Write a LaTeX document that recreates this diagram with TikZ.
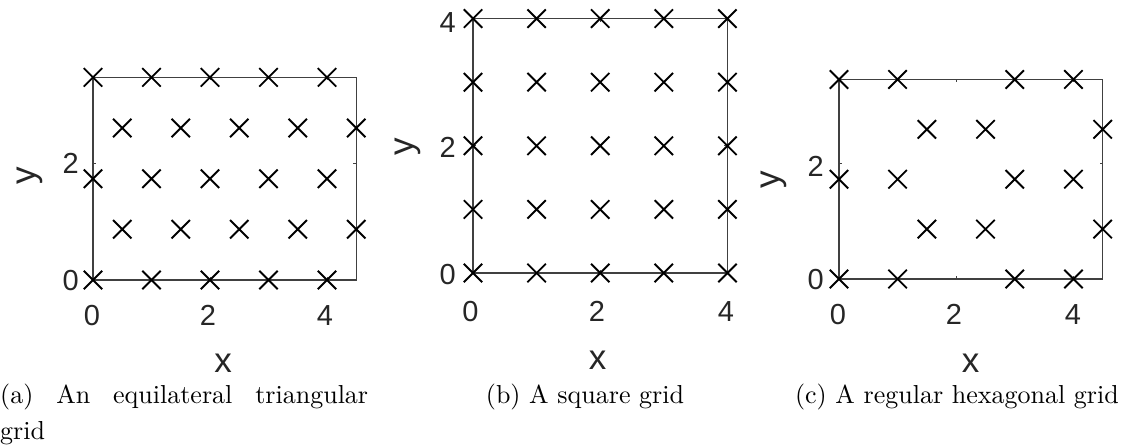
\documentclass[tikz,border=0pt]{standalone}
\usepackage{fontspec}
\usetikzlibrary{shapes.misc}
\newfontfamily\axfont{Liberation Sans}
\newfontfamily\capfont{lmroman10-regular.otf}
\definecolor{axgray}{HTML}{404040}
\definecolor{labgray}{HTML}{262626}
\begin{document}
\begin{tikzpicture}[x=1pt,y=-1pt,
  mk/.style={draw=black, line width=1.9pt, cross out, minimum size=16.5pt, inner sep=0pt},
  axbox/.style={draw=axgray, line width=1.3pt},
  tickmk/.style={draw=axgray, line width=0.8pt},
  tk/.style={font=\axfont\fontsize{29}{29}\selectfont, text=labgray, inner sep=0pt},
  lb/.style={font=\axfont\fontsize{35}{35}\selectfont, text=labgray, inner sep=0pt},
  captext/.style={font=\capfont\fontsize{26}{36.5}\selectfont, inner sep=0pt, anchor=base west}]
\useasboundingbox (0,0) rectangle (1122,446);

% ---------- (a) triangular ----------
\begin{scope}[shift={(93,280)}, x=58.5pt, y=58.5pt]
  \draw[axbox] (0,0) rectangle (4.5,3.464);
  \foreach \t in {0,2,4} {\draw[tickmk] (\t,0) -- ++(0pt,3pt); \draw[tickmk] (\t,3.464) -- ++(0pt,-3pt);}
  \foreach \t in {0,2} {\draw[tickmk] (0,\t) -- ++(3pt,0pt); \draw[tickmk] (4.5,\t) -- ++(-3pt,0pt);}
  \foreach \j in {0,2,4} \foreach \i in {0,...,4} \node[mk] (a\i\j) at (\i,{\j*0.866}) {};
  \foreach \j in {1,3} \foreach \i in {0,...,4} \node[mk] (a\i\j) at ({\i+0.5},{\j*0.866}) {};
\end{scope}
\node[tk, anchor=base] (ax0) at (92,326) {0};
\node[tk, anchor=base] (ax2) at (208,326) {2};
\node[tk, anchor=base] (ax4) at (325,326) {4};
\node[tk, anchor=base east] (ay0) at (79,291) {0};
\node[tk, anchor=base east] (ay2) at (79,174) {2};
\node[lb, anchor=base] (axl) at (223,372) {x};
\node[lb, rotate=90] (ayl) at (30,176) {y};

% ---------- (b) square ----------
\begin{scope}[shift={(473,273)}, x=63.6pt, y=63.6pt]
  \draw[axbox] (0,0) rectangle (4,4);
  \foreach \t in {0,2,4} {\draw[tickmk] (\t,0) -- ++(0pt,3pt); \draw[tickmk] (\t,4) -- ++(0pt,-3pt);
    \draw[tickmk] (0,\t) -- ++(3pt,0pt); \draw[tickmk] (4,\t) -- ++(-3pt,0pt);}
  \foreach \j in {0,...,4} \foreach \i in {0,...,4} \node[mk] (b\i\j) at (\i,\j) {};
\end{scope}
\node[tk, anchor=base] (bx0) at (470.5,322) {0};
\node[tk, anchor=base] (bx2) at (597,322) {2};
\node[tk, anchor=base] (bx4) at (726,322) {4};
\node[tk, anchor=base east] (by0) at (456,285) {0};
\node[tk, anchor=base east] (by2) at (456,158) {2};
\node[tk, anchor=base east] (by4) at (456,33) {4};
\node[lb, anchor=base] (bxl) at (597.5,370) {x};
\node[lb, rotate=90] (byl) at (408,147) {y};

% ---------- (c) hexagonal ----------
\begin{scope}[shift={(839,279)}, x=58.6pt, y=57.6pt]
  \draw[axbox] (0,0) rectangle (4.5,3.464);
  \foreach \t in {0,2,4} {\draw[tickmk] (\t,0) -- ++(0pt,3pt); \draw[tickmk] (\t,3.464) -- ++(0pt,-3pt);}
  \foreach \t in {0,2} {\draw[tickmk] (0,\t) -- ++(3pt,0pt); \draw[tickmk] (4.5,\t) -- ++(-3pt,0pt);}
  \foreach \j in {0,2,4} \foreach \i in {0,1,3,4} \node[mk] (c\i\j) at (\i,{\j*0.866}) {};
  \foreach \j in {1,3} \foreach \i in {1.5,2.5,4.5} \node[mk] (c\i\j) at (\i,{\j*0.866}) {};
\end{scope}
\node[tk, anchor=base] (cx0) at (838,325) {0};
\node[tk, anchor=base] (cx2) at (954,325) {2};
\node[tk, anchor=base] (cx4) at (1073,325) {4};
\node[tk, anchor=base east] (cy0) at (824,290) {0};
\node[tk, anchor=base east] (cy2) at (824,177) {2};
\node[lb, anchor=base] (cxl) at (970.5,372) {x};
\node[lb, rotate=90] (cyl) at (774,180) {y};

% ---------- captions ----------
\node[captext] (capa) at (0,403) {\parbox[t]{368pt}{\capfont\fontsize{26}{36.5}\selectfont (a) An equilateral triangular\linebreak grid}};
\node[captext, anchor=base] (capb) at (585,403) {(b) A square grid};
\node[captext, anchor=base east] (capc) at (1119,403) {(c) A regular hexagonal grid};
\end{tikzpicture}
\end{document}
